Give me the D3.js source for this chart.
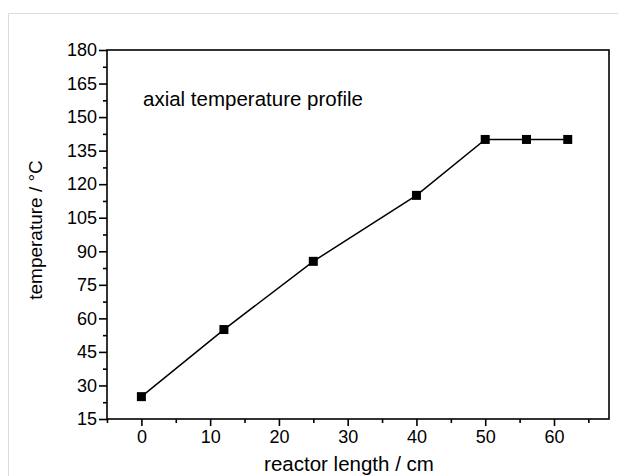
<!DOCTYPE html>
<html><head><meta charset="utf-8">
<script src="https://cdn.jsdelivr.net/npm/d3@7"></script>
<style>body{margin:0;background:#fff}svg{display:block}</style>
</head><body>
<svg id="c" width="618" height="476"></svg>
<script>
const xValues = [0, 12, 25, 40, 50, 56, 62];
const yValues = [25, 55, 85.5, 115, 140, 140, 140];
const xTicks = [0, 10, 20, 30, 40, 50, 60];
const yTicks = [15, 30, 45, 60, 75, 90, 105, 120, 135, 150, 165, 180];
const title = "axial temperature profile";
const xTitle = "reactor length / cm";
const yTitle = "temperature / °C";

const svg = d3.select("#c");
const font = "Liberation Sans, Arial, sans-serif";
const L = 107, R = 609, T = 50, B = 419;
const x = d3.scaleLinear().domain([-5, 68]).range([L, R]);
const y = d3.scaleLinear().domain([15, 180]).range([B, T]);

// outer light border
svg.append("path").attr("d", `M8.5,476 V13.5 H618`).attr("fill","none").attr("stroke","#dcdcdc").attr("stroke-width",1);

// frame
svg.append("rect").attr("x",L).attr("y",T).attr("width",R-L).attr("height",B-T)
  .attr("fill","none").attr("stroke","#000").attr("stroke-width",1.6);

// y axis
const yAx = svg.append("g").attr("transform",`translate(${L},0)`)
  .call(d3.axisLeft(y).tickValues(yTicks).tickSize(8).tickPadding(2).tickFormat(d3.format("d")));
const yMinor = svg.append("g").attr("transform",`translate(${L},0)`)
  .call(d3.axisLeft(y).tickValues(yTicks.slice(0,-1).map(v=>v+7.5)).tickSize(4).tickFormat(""));
// x axis
const xAx = svg.append("g").attr("transform",`translate(0,${B})`)
  .call(d3.axisBottom(x).tickValues(xTicks).tickSize(7).tickPadding(4).tickFormat(d3.format("d")));
const xMinor = svg.append("g").attr("transform",`translate(0,${B})`)
  .call(d3.axisBottom(x).tickValues([-5,5,15,25,35,45,55,65]).tickSize(4).tickFormat(""));
[yAx,yMinor,xAx,xMinor].forEach(g=>{
  g.select(".domain").remove();
  g.selectAll("line").attr("stroke","#000").attr("stroke-width",1.6);
  g.selectAll("text").attr("font-family",font).attr("font-size",18).attr("fill","#000");
});

// line
const line = d3.line().x((d,i)=>x(xValues[i])).y((d,i)=>y(yValues[i]));
svg.append("path").datum(yValues).attr("d",line).attr("fill","none").attr("stroke","#000").attr("stroke-width",1.5);
// markers
const s = 9;
svg.selectAll("rect.m").data(yValues).enter().append("rect").attr("class","m")
  .attr("x",(d,i)=>x(xValues[i])-s/2).attr("y",d=>y(d)-s/2).attr("width",s).attr("height",s).attr("fill","#000");

// texts
svg.append("text").attr("x",143).attr("y",106).attr("font-family",font).attr("font-size",20.5).text(title);
svg.append("text").attr("x",349).attr("y",471).attr("text-anchor","middle").attr("font-family",font).attr("font-size",20.5).text(xTitle);
svg.append("text").attr("transform",`translate(42,230) rotate(-90)`).attr("text-anchor","middle").attr("font-family",font).attr("font-size",19).text(yTitle);
</script>
</body></html>
